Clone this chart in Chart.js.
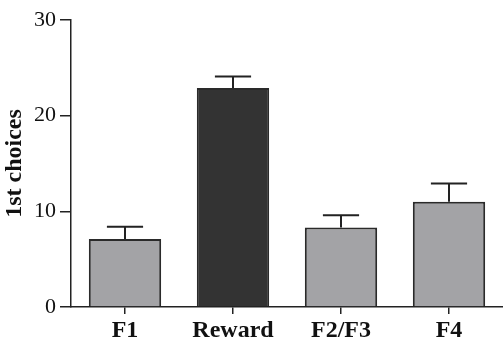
<!DOCTYPE html>
<html>
<head>
<meta charset="utf-8">
<script src="https://cdn.jsdelivr.net/npm/chart.js@4"></script>
<style>
  html, body { margin: 0; padding: 0; background: #fff; }
  #wrap { width: 503px; height: 352px; }
</style>
</head>
<body>
<div id="wrap"><canvas id="myChart" width="503" height="352"></canvas></div>
<script>
var categories = ['F1', 'Reward', 'F2/F3', 'F4'];
var means = [7.1, 22.9, 8.3, 11.0];
var errors = [1.3, 1.2, 1.3, 1.9];
var barColors = ['#a3a3a6', '#333333', '#a3a3a6', '#a3a3a6'];
var yTicks = [0, 10, 20, 30];

var serif = "'Liberation Serif', 'Times New Roman', serif";

// draws the upper error bar with a cap on each bar
var errorBars = {
    id: 'errorBars',
    afterDatasetsDraw: function(chart) {
        var ctx = chart.ctx;
        var meta = chart.getDatasetMeta(0);
        var yScale = chart.scales.y;
        ctx.save();
        ctx.strokeStyle = '#222';
        ctx.lineWidth = 2;
        meta.data.forEach(function(bar, i) {
            var yTop = yScale.getPixelForValue(means[i] + errors[i]);
            var half = bar.width / 4;
            ctx.beginPath();
            ctx.moveTo(bar.x, bar.y);
            ctx.lineTo(bar.x, yTop);
            ctx.moveTo(bar.x - half, yTop);
            ctx.lineTo(bar.x + half, yTop);
            ctx.stroke();
        });
        ctx.restore();
    }
};

var ctx = document.getElementById('myChart').getContext('2d');
var chart = new Chart(ctx, {
    type: 'bar',
    data: {
        labels: categories,
        datasets: [{
            label: '1st choices',
            data: means,
            backgroundColor: barColors,
            borderColor: '#2a2a2a',
            borderWidth: 2,
            barPercentage: 0.67,
            categoryPercentage: 1.0
        }]
    },
    options: {
        responsive: false,
        animation: false,
        layout: { padding: { top: 20, right: 0, left: 0, bottom: 0 } },
        plugins: {
            legend: { display: false },
            tooltip: { enabled: false }
        },
        scales: {
            x: {
                grid: { drawOnChartArea: false, drawTicks: true, tickLength: 7, offset: false, color: '#222', lineWidth: 1.5 },
                border: { color: '#222', width: 1.5 },
                ticks: {
                    color: '#111',
                    padding: 2,
                    font: { family: serif, size: 24, weight: 'bold' }
                },
                afterFit: function(scale) { scale.height = 45; }
            },
            y: {
                min: 0,
                max: 30,
                afterBuildTicks: function(scale) {
                    scale.ticks = yTicks.map(function(v) { return { value: v }; });
                },
                grid: { drawOnChartArea: false, drawTicks: true, tickLength: 11, color: '#222', lineWidth: 1.5 },
                border: { color: '#222', width: 1.5 },
                ticks: {
                    color: '#111',
                    padding: 4,
                    font: { family: serif, size: 22 }
                },
                title: {
                    display: true,
                    text: '1st choices',
                    color: '#111',
                    padding: 0,
                    font: { family: serif, size: 24, weight: 'bold', lineHeight: 1.2 }
                },
                afterFit: function(scale) { scale.width = 71; }
            }
        }
    },
    plugins: [errorBars]
});
</script>
</body>
</html>
